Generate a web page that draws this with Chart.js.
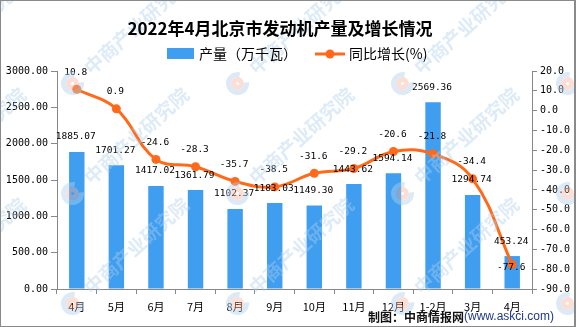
<!DOCTYPE html>
<html>
<head>
<meta charset="utf-8">
<script src="https://cdn.jsdelivr.net/npm/chart.js@4/dist/chart.umd.min.js"></script>
<style>
html,body{margin:0;padding:0;background:#fff;}
#wrap{width:576px;height:327px;position:relative;}
</style>
</head>
<body>
<div id="wrap"><canvas id="c" width="576" height="327"></canvas></div>
<script>
const categories = ['4月','5月','6月','7月','8月','9月','10月','11月','12月','1-2月','3月','4月'];
const output = [1885.07,1701.27,1417.02,1361.79,1102.37,1183.03,1149.30,1443.62,1594.14,2569.36,1294.74,453.24];
const growth = [10.8,0.9,-24.6,-28.3,-35.7,-38.5,-31.6,-29.2,-20.6,-21.8,-34.4,-77.6];
const leftTicks = [0,500,1000,1500,2000,2500,3000];
const rightTicks = [-90,-80,-70,-60,-50,-40,-30,-20,-10,0,10,20];

const titleText = '2022年4月北京市发动机产量及增长情况';
const barName = '产量（万千瓦）';
const lineName = '同比增长(%)';

const BAR = '#3f9ef0';
const ORANGE = '#ff6a1a';
const CJK = '"Noto Sans CJK SC", "Noto Sans", sans-serif';
const MONO = '"DejaVu Sans Mono", "Liberation Mono", monospace';

const decor = {
  id: 'decor',
  afterDatasetsDraw(chart) {
    const ctx = chart.ctx;
    // data labels
    ctx.save();
    ctx.fillStyle = '#000';
    ctx.font = '9.5px ' + MONO;
    ctx.textAlign = 'center';
    ctx.textBaseline = 'middle';
    const bm = chart.getDatasetMeta(0);
    bm.data.forEach((el, i) => {
      ctx.fillText(output[i].toFixed(2), el.x - 1, el.y - 15);
    });
    const lm = chart.getDatasetMeta(1);
    lm.data.forEach((el, i) => {
      const dy = (i === growth.length - 1) ? 3 : -17;
      ctx.fillText(growth[i].toFixed(1), el.x - 1, el.y + dy);
    });
    ctx.restore();

    // watermarks
    ctx.save();
    const xs = [-31, 132, 297, 462, 627];
    const ys = [30, 140, 250];
    ys.forEach(y => xs.forEach(x => {
      ctx.save();
      ctx.translate(x, y);
      ctx.rotate(-42 * Math.PI / 180);
      ctx.fillStyle = 'rgba(175,208,236,0.42)';
      ctx.font = 'bold 19px ' + CJK;
      ctx.textAlign = 'center';
      ctx.textBaseline = 'middle';
      ctx.fillText('中商产业研究院', 6, 0);
      // logo
      ctx.lineWidth = 5;
      ctx.strokeStyle = 'rgba(175,208,236,0.45)';
      ctx.beginPath();
      ctx.arc(-80, 0, 9, 0.6, Math.PI * 2 - 0.6);
      ctx.stroke();
      ctx.strokeStyle = 'rgba(245,175,155,0.4)';
      ctx.beginPath();
      ctx.arc(-80, 0, 4, 0, Math.PI * 2);
      ctx.stroke();
      ctx.restore();
    }));
    ctx.restore();
  },
  afterDraw(chart) {
    const ctx = chart.ctx;
    ctx.save();
    // title
    ctx.fillStyle = '#000';
    ctx.font = 'bold 17px ' + CJK;
    ctx.textAlign = 'center';
    ctx.textBaseline = 'middle';
    ctx.fillText(titleText, 280, 29);
    // legend
    ctx.fillStyle = BAR;
    ctx.fillRect(167, 48, 27, 11);
    ctx.fillStyle = '#000';
    ctx.font = '14px ' + CJK;
    ctx.textAlign = 'left';
    ctx.fillText(barName, 199, 54);
    ctx.strokeStyle = ORANGE;
    ctx.lineWidth = 3;
    ctx.beginPath();
    ctx.moveTo(315, 54); ctx.lineTo(345, 54);
    ctx.stroke();
    ctx.fillStyle = ORANGE;
    ctx.beginPath();
    ctx.arc(330, 54, 4.5, 0, Math.PI * 2);
    ctx.fill();
    ctx.fillStyle = '#000';
    ctx.fillText(lineName, 349, 54);
    // footer
    ctx.font = 'bold 12px ' + CJK;
    ctx.fillStyle = '#111';
    const f1 = '制图：中商情报网';
    ctx.fillText(f1, 368, 317);
    const w1 = ctx.measureText(f1).width;
    ctx.font = '12px "Liberation Sans", Arial, sans-serif';
    ctx.fillStyle = '#1d3a8a';
    ctx.fillText('(www.askci.com)', 368 + w1, 317);
    // border
    ctx.strokeStyle = '#8a8a8a';
    ctx.lineWidth = 1;
    ctx.strokeRect(0.5, 0.5, 574, 326);
    ctx.lineWidth = 2;
    ctx.beginPath();
    ctx.moveTo(575, 0); ctx.lineTo(575, 327);
    ctx.stroke();
    ctx.restore();
  }
};

new Chart(document.getElementById('c'), {
  data: {
    labels: categories,
    datasets: [
      {
        type: 'bar',
        label: barName,
        data: output,
        backgroundColor: BAR,
        yAxisID: 'y',
        barPercentage: 0.39,
        categoryPercentage: 1,
        order: 2
      },
      {
        type: 'line',
        label: lineName,
        data: growth,
        borderColor: ORANGE,
        backgroundColor: ORANGE,
        borderWidth: 3,
        pointRadius: 4.5,
        pointBackgroundColor: ORANGE,
        pointBorderWidth: 0,
        tension: 0.4,
        yAxisID: 'y1',
        order: 1
      }
    ]
  },
  options: {
    responsive: false,
    animation: false,
    devicePixelRatio: 1,
    layout: { padding: { top: 71, left: 0, right: 0, bottom: 0 } },
    plugins: { legend: { display: false }, title: { display: false }, tooltip: { enabled: false } },
    scales: {
      x: {
        offset: true,
        grid: { offset: true, drawOnChartArea: false, drawTicks: true, tickLength: 5, color: '#888' },
        border: { display: true, color: '#888' },
        ticks: { color: '#000', font: { family: CJK, size: 11 }, padding: 6, maxRotation: 0, autoSkip: false },
        afterFit(s) { s.height = 38; }
      },
      y: {
        position: 'left',
        min: 0, max: 3000,
        afterBuildTicks(s) { s.ticks = leftTicks.map(v => ({ value: v })); },
        grid: { drawOnChartArea: false, drawTicks: true, tickLength: 6, color: '#888' },
        border: { display: true, color: '#888' },
        ticks: { color: '#000', font: { family: MONO, size: 10 }, padding: 3, callback: v => Number(v).toFixed(2) },
        afterFit(s) { s.width = 57; }
      },
      y1: {
        position: 'right',
        min: -90, max: 20,
        afterBuildTicks(s) { s.ticks = rightTicks.map(v => ({ value: v })); },
        grid: { drawOnChartArea: false, drawTicks: true, tickLength: 5, color: '#888' },
        border: { display: true, color: '#888' },
        ticks: { color: '#000', font: { family: MONO, size: 10 }, padding: 3, callback: v => Number(v).toFixed(1) },
        afterFit(s) { s.width = 44; }
      }
    }
  },
  plugins: [decor]
});
</script>
</body>
</html>
